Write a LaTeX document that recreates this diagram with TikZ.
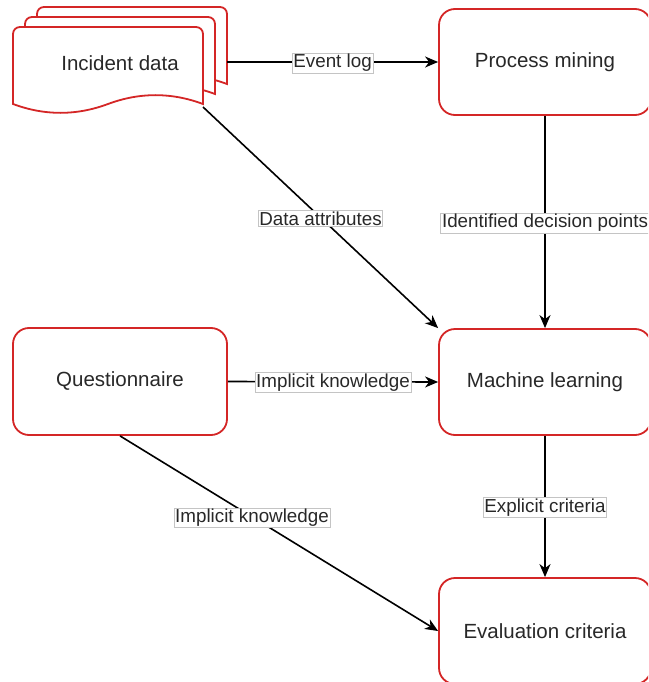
\documentclass[tikz,border=0pt]{standalone}
\usepackage{fontspec}
\setmainfont{Liberation Sans}
\usetikzlibrary{arrows.meta}

\definecolor{boxred}{RGB}{212,38,38}
\definecolor{tagframe}{RGB}{196,196,196}
\definecolor{ink}{RGB}{40,40,40}

\tikzset{
  block/.style={draw=boxred, line width=1.8pt, rounded corners=16pt, fill=white,
    minimum width=212pt, minimum height=106pt, inner sep=0pt,
    font=\fontsize{20.5}{24}\selectfont, text=ink},
  flow/.style={draw=black, line width=1.6pt,
    -{Stealth[length=13pt,width=11pt,inset=4pt]}},
  tag/.style={fill=white, draw=tagframe, line width=0.8pt,
    inner xsep=1.2pt, inner ysep=1.2pt,
    font=\fontsize{18.8}{22}\selectfont, text=ink},
  docpage/.style={draw=boxred, line width=1.8pt, fill=white},
}

% one page of the stacked document symbol (top corners rounded, wavy bottom)
\newcommand\docpage{(0,77) -- (0,7) .. controls (0,3.13) and (3.13,0) .. (7,0)
  -- (183,0) .. controls (186.87,0) and (190,3.13) .. (190,7) -- (190,77)
  .. controls (158.3,65.2) and (126.7,65.2) .. (95,77)
  .. controls (63.3,88.8) and (31.7,88.8) .. (0,77) -- cycle}

\begin{document}
\begin{tikzpicture}[x=1pt,y=-1pt]
  \useasboundingbox (0,0) rectangle (648,682);
  \clip (0,0) rectangle (648,682);

  % stacked incident data documents
  \begin{scope}[shift={(37,7)}]  \draw[docpage] \docpage; \end{scope}
  \begin{scope}[shift={(25,17)}] \draw[docpage] \docpage; \end{scope}
  \begin{scope}[shift={(13,27)}] \draw[docpage] \docpage; \end{scope}
  \node[font=\fontsize{20.5}{24}\selectfont, text=ink] (inc) at (120,63.5) {Incident data};
  \coordinate (incE) at (227,62);
  \coordinate (incSE) at (203,107);

  % process steps
  \node[block] (pm) at (545,62)  {\raisebox{-1.5pt}{Process mining}};
  \node[block] (ml) at (545,382) {\raisebox{-1.5pt}{Machine learning}};
  \node[block] (ev) at (545,631) {\raisebox{-1.5pt}{Evaluation criteria}};
  \node[block, minimum width=214pt, minimum height=107pt] (q) at (120,381.5)
    {\raisebox{-1.5pt}{Questionnaire}};

  % connectors
  \draw[flow] (incE) -- node[tag, yshift=-1pt] {Event log} (pm.west);
  \draw[flow] (incSE) -- node[tag, yshift=-1pt] {Data attributes} (ml.north west);
  \draw[flow] (pm.south) -- node[tag, yshift=-1pt] {Identified decision points} (ml.north);
  \draw[flow] (q.east) -- node[tag, yshift=-1pt] {Implicit knowledge} (ml.west);
  \draw[flow] (q.south) -- node[tag, pos=0.415, yshift=-1pt] {Implicit knowledge} (ev.west);
  \draw[flow] (ml.south) -- node[tag, yshift=-1pt] {Explicit criteria} (ev.north);
\end{tikzpicture}
\end{document}
